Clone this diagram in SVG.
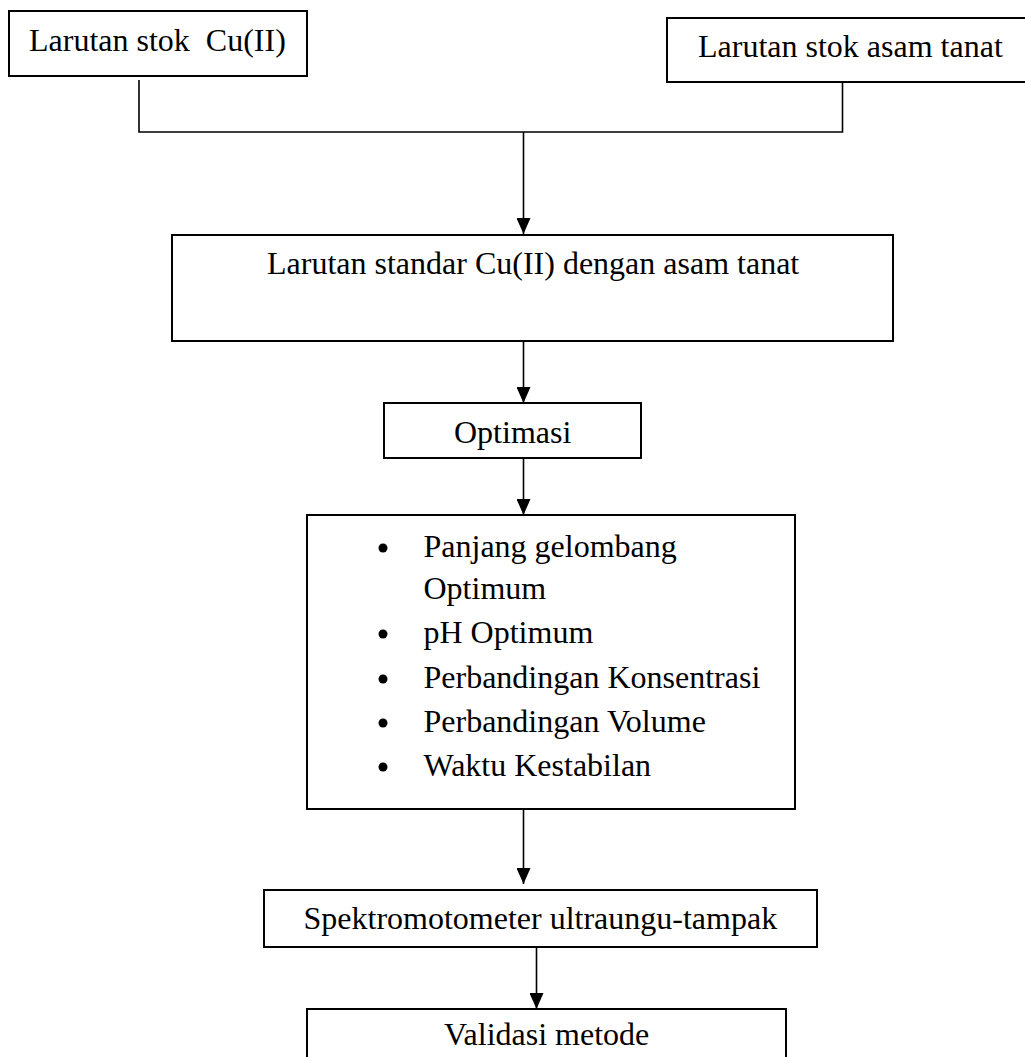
<svg xmlns="http://www.w3.org/2000/svg" width="1025" height="1057" viewBox="0 0 1025 1057">
  <style>
    .box { fill: #ffffff; stroke: #000000; stroke-width: 2; }
    .lbl { font-family: "Liberation Serif", "Times New Roman", serif; font-size: 32px; fill: #000000; white-space: pre; }
    .wire { fill: none; stroke: #000000; stroke-width: 1.6; }
    .dot { fill: #000000; }
  </style>
  <defs>
    <marker id="arrow" viewBox="0 0 16 14" markerWidth="16" markerHeight="14" refX="16" refY="7" orient="auto" markerUnits="userSpaceOnUse">
      <path d="M0,0 L16,7 L0,14 z" fill="#000000"/>
    </marker>
  </defs>
  <rect width="1025" height="1057" fill="#ffffff"/>

  <g id="connectors">
    <path class="wire" d="M139,80 V132 H842.5 V78"/>
    <path class="wire" d="M523.5,132 V234" marker-end="url(#arrow)"/>
    <path class="wire" d="M523.5,341 V403" marker-end="url(#arrow)"/>
    <path class="wire" d="M523.5,458 V515" marker-end="url(#arrow)"/>
    <path class="wire" d="M523.5,809 V884" marker-end="url(#arrow)"/>
    <path class="wire" d="M536.5,947 V1009" marker-end="url(#arrow)"/>
  </g>

  <g id="node-stok-cu">
    <rect class="box" x="9" y="11" width="298" height="65"/>
    <text class="lbl" x="29" y="51" xml:space="preserve">Larutan stok  Cu(II)</text>
  </g>

  <g id="node-stok-tanat">
    <rect class="box" x="667" y="18" width="370" height="64"/>
    <text class="lbl" x="698" y="57">Larutan stok asam tanat</text>
  </g>

  <g id="node-standar">
    <rect class="box" x="172" y="235" width="721" height="106"/>
    <text class="lbl" x="267" y="274">Larutan standar Cu(II) dengan asam tanat</text>
  </g>

  <g id="node-optimasi">
    <rect class="box" x="384" y="403" width="257" height="55"/>
    <text class="lbl" x="454" y="443">Optimasi</text>
  </g>

  <g id="node-parameter">
    <rect class="box" x="307" y="515" width="488" height="294"/>
    <circle class="dot" cx="383" cy="548" r="4.5"/>
    <text class="lbl" x="423.5" y="557">Panjang gelombang</text>
    <text class="lbl" x="423.5" y="599">Optimum</text>
    <circle class="dot" cx="383" cy="634" r="4.5"/>
    <text class="lbl" x="423.5" y="643">pH Optimum</text>
    <circle class="dot" cx="383" cy="679" r="4.5"/>
    <text class="lbl" x="423.5" y="688">Perbandingan Konsentrasi</text>
    <circle class="dot" cx="383" cy="723" r="4.5"/>
    <text class="lbl" x="423.5" y="732">Perbandingan Volume</text>
    <circle class="dot" cx="383" cy="767" r="4.5"/>
    <text class="lbl" x="423.5" y="776">Waktu Kestabilan</text>
  </g>

  <g id="node-spektro">
    <rect class="box" x="264" y="890" width="553" height="57"/>
    <text class="lbl" x="303.5" y="929">Spektromotometer ultraungu-tampak</text>
  </g>

  <g id="node-validasi">
    <rect class="box" x="307" y="1009" width="479" height="70"/>
    <text class="lbl" x="444" y="1045">Validasi metode</text>
  </g>
</svg>
